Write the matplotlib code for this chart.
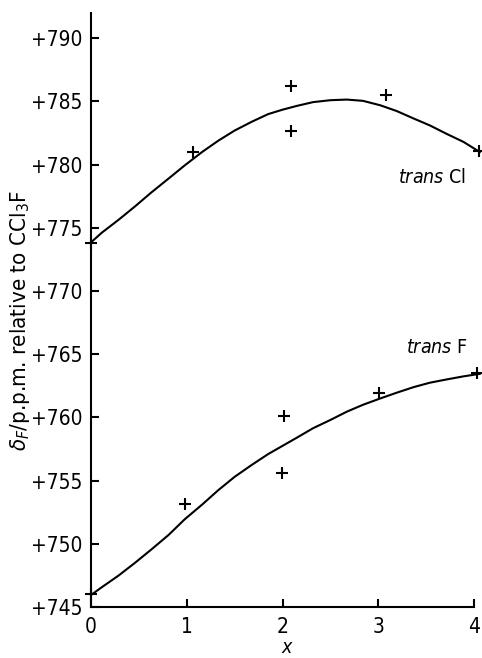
import matplotlib.pyplot as plt

# valeurs
cl_x = [0.0, 1.06, 2.09, 2.09, 3.08, 4.05]
cl_y = [773.8, 781.0, 786.2, 782.7, 785.5, 781.1]
f_x = [0.0, 0.98, 2.02, 1.99, 3.01, 4.03]
f_y = [746.0, 753.15, 760.1, 755.6, 761.9, 763.55]

# courbes tracées à la main (points relevés)
curve_x = [0.0, 0.11, 0.29, 0.46, 0.63, 0.81, 0.98, 1.16, 1.33, 1.50, 1.68, 1.85, 2.0,
           2.15, 2.32, 2.50, 2.67, 2.84, 3.02, 3.19, 3.37, 3.54, 3.71, 3.89, 4.06]
cl_curve = [773.85, 774.6, 775.65, 776.7, 777.8, 778.9, 779.95, 781.0, 781.9, 782.7, 783.4,
            784.0, 784.35, 784.65, 784.95, 785.1, 785.15, 785.05, 784.7, 784.25, 783.65, 783.1,
            782.45, 781.8, 781.0]
f_curve = [745.95, 746.55, 747.5, 748.5, 749.55, 750.7, 751.95, 753.1, 754.25, 755.3, 756.25,
           757.1, 757.75, 758.4, 759.15, 759.8, 760.45, 761.0, 761.5, 761.95, 762.4, 762.75,
           763.0, 763.25, 763.45]

y_ticks = [745, 750, 755, 760, 765, 770, 775, 780, 785, 790]
y_ticklabels = ['+' + str(v) for v in y_ticks]
x_ticks = [0, 1, 2, 3, 4]

plt.rcParams['font.family'] = ['DejaVu Sans']
plt.rcParams['font.stretch'] = 'condensed'

fig = plt.figure(figsize=(4.82, 6.58), dpi=100)
ax = fig.add_axes([91 / 482, 51 / 658, 391 / 482, 594 / 658])

ax.plot(curve_x, cl_curve, color='black', linewidth=1.5, clip_on=False, solid_joinstyle='round')
ax.plot(curve_x, f_curve, color='black', linewidth=1.5, clip_on=False, solid_joinstyle='round')
ax.plot(cl_x, cl_y, '+', color='black', markersize=8, markeredgewidth=1.5, clip_on=False)
ax.plot(f_x, f_y, '+', color='black', markersize=8, markeredgewidth=1.5, clip_on=False)

ax.set_xlim(0, 4.083)
ax.set_ylim(745, 792)
ax.spines['top'].set_visible(False)
ax.spines['right'].set_visible(False)
ax.spines['left'].set_linewidth(1.5)
ax.spines['bottom'].set_linewidth(1.5)
ax.spines['bottom'].set_bounds(0, 4)

ax.set_xticks(x_ticks)
ax.set_yticks(y_ticks)
ax.set_yticklabels(y_ticklabels)
ax.tick_params(direction='in', length=6, width=1.5, labelsize=15)
ax.tick_params(axis='x', pad=7)
ax.tick_params(axis='y', pad=6)

ax.set_xlabel('x', fontsize=14, style='italic', labelpad=1)

fig.text(20 / 482, 1 - 321 / 658, r'$\delta_F$/p.p.m. relative to CCl$_3$F',
         rotation=90, ha='center', va='center', fontsize=16)

ax.text(3.21, 779.0, r'$\it{trans}$ Cl', fontsize=14, va='center', clip_on=False)
ax.text(3.29, 765.5, r'$\it{trans}$ F', fontsize=14, va='center', clip_on=False)

fig.savefig('out.png', dpi=100)
